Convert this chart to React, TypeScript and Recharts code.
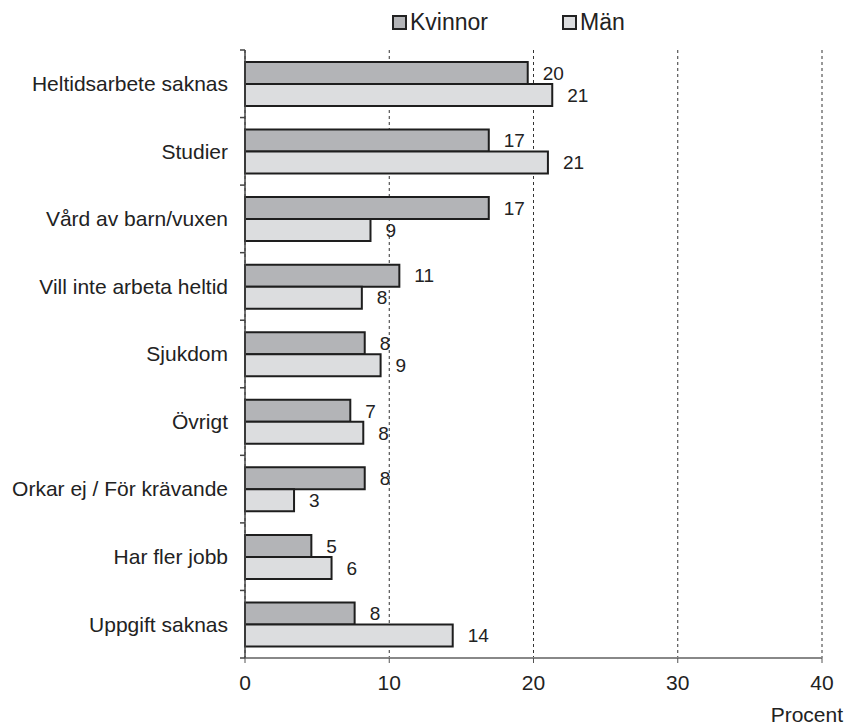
import React from "react";
import {
  BarChart,
  Bar,
  XAxis,
  YAxis,
  CartesianGrid,
  Legend,
  LabelList,
} from "recharts";

const categories = [
  "Heltidsarbete saknas",
  "Studier",
  "Vård av barn/vuxen",
  "Vill inte arbeta heltid",
  "Sjukdom",
  "Övrigt",
  "Orkar ej / För krävande",
  "Har fler jobb",
  "Uppgift saknas",
];
const kvinnor = [19.6, 16.9, 16.9, 10.7, 8.3, 7.3, 8.3, 4.6, 7.6];
const man = [21.3, 21.0, 8.7, 8.1, 9.4, 8.2, 3.4, 6.0, 14.4];
const xTicks = [0, 10, 20, 30, 40];

const data = categories.map((name, i) => ({ name, Kvinnor: kvinnor[i], Män: man[i] }));

const FONT = "'Liberation Sans', Arial, sans-serif";
const TEXT = "#222";
const TICK_SIZE = 5;
const TICK_MARGIN = 12;

function CategoryTick(props: any) {
  const { x, y, payload, index } = props;
  const half = payload?.offset ?? 0;
  const axisX = x + TICK_SIZE + TICK_MARGIN;
  const last = index === categories.length - 1;
  return (
    <g>
      <line x1={axisX - TICK_SIZE} x2={axisX} y1={y - half} y2={y - half} stroke="#444" strokeWidth={1.5} />
      {last && (
        <line x1={axisX - TICK_SIZE} x2={axisX} y1={y + half} y2={y + half} stroke="#444" strokeWidth={1.5} />
      )}
      <text x={x} y={y} dy="0.35em" textAnchor="end" fontSize={21} fill={TEXT} fontFamily={FONT}>
        {payload.value}
      </text>
    </g>
  );
}

function LegendContent(props: any) {
  const items = props.payload || [];
  return (
    <div style={{ display: "flex", alignItems: "center", fontFamily: FONT, fontSize: 23, color: TEXT }}>
      {items.map((it: any, i: number) => (
        <div key={it.value} style={{ display: "flex", alignItems: "center", marginRight: i === 0 ? 74 : 0 }}>
          <span
            style={{
              display: "inline-block",
              width: 11,
              height: 11,
              background: it.color,
              border: "2px solid #222",
              marginRight: 3,
            }}
          />
          <span>{it.value}</span>
        </div>
      ))}
    </div>
  );
}

function ProcentLabel(props: any) {
  const vb = props.viewBox || {};
  return (
    <text
      x={vb.x + vb.width + 21}
      y={vb.y + 57}
      dy="0.35em"
      textAnchor="end"
      fontSize={21}
      fill={TEXT}
      fontFamily={FONT}
    >
      Procent
    </text>
  );
}

const labelFmt = (v: any) => Math.round(Number(v));

export default function App() {
  return (
    <div style={{ position: "absolute", left: 0, top: 0, width: 846, height: 727, fontFamily: FONT }}>
      <BarChart
        width={846}
        height={727}
        data={data}
        layout="vertical"
        margin={{ top: 50, right: 24, bottom: 29, left: 0 }}
        barGap={0}
        barSize={22}
      >
        <CartesianGrid horizontal={false} stroke="#333" strokeDasharray="3 3" />
        <XAxis
          type="number"
          domain={[0, 40]}
          ticks={xTicks}
          interval={0}
          height={40}
          tickSize={5}
          tickMargin={12}
          tick={{ fontSize: 21, fill: TEXT, fontFamily: FONT }}
          axisLine={{ stroke: "#888", strokeWidth: 2 }}
          tickLine={{ stroke: "#555" }}
          label={<ProcentLabel />}
        />
        <XAxis
          xAxisId="top"
          orientation="top"
          type="number"
          domain={[0, 40]}
          height={0}
          tick={false}
          tickLine={false}
          axisLine={{ stroke: "#999", strokeWidth: 2 }}
        />
        <YAxis
          type="category"
          dataKey="name"
          width={245}
          interval={0}
          tickSize={TICK_SIZE}
          tickMargin={TICK_MARGIN}
          tickLine={false}
          tick={<CategoryTick />}
          axisLine={{ stroke: "#444", strokeWidth: 1.5 }}
        />
        <YAxis
          yAxisId="right"
          orientation="right"
          type="category"
          dataKey="name"
          width={0}
          tick={false}
          tickLine={false}
          axisLine={{ stroke: "#999", strokeWidth: 2 }}
        />
        <Legend
          layout="horizontal"
          verticalAlign="middle"
          align="center"
          content={<LegendContent />}
          wrapperStyle={{ top: 9, left: 392, width: "auto" }}
        />
        <Bar dataKey="Kvinnor" fill="#b3b4b7" stroke="#1e1e1e" strokeWidth={2} isAnimationActive={false}>
          <LabelList dataKey="Kvinnor" position="right" offset={15} formatter={labelFmt} fontSize={19} fill={TEXT} fontFamily={FONT} />
        </Bar>
        <Bar dataKey="Män" fill="#dcdddf" stroke="#1e1e1e" strokeWidth={2} isAnimationActive={false}>
          <LabelList dataKey="Män" position="right" offset={15} formatter={labelFmt} fontSize={19} fill={TEXT} fontFamily={FONT} />
        </Bar>
      </BarChart>
    </div>
  );
}
